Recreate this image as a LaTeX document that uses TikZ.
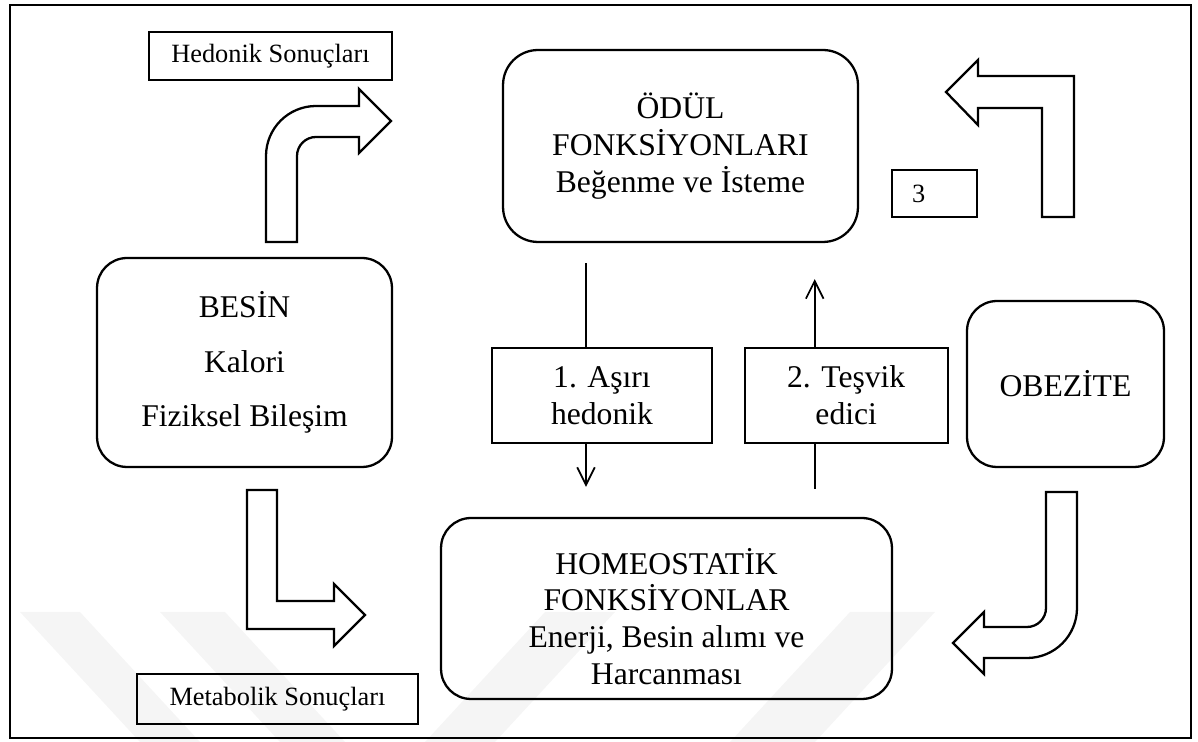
\documentclass[tikz,border=0pt]{standalone}
\usepackage{fontspec}
\setmainfont{Liberation Serif}
\usetikzlibrary{arrows.meta, positioning}
\tikzstyle{rbox} = [rectangle, rounded corners = 0.6cm, draw = black,
  line width = 1.3pt, align = center, font = \fontsize{18}{21}\selectfont]
\tikzstyle{box} = [rectangle, draw = black, line width = 1pt,
  align = center, font = \fontsize{18}{21}\selectfont]
\tikzstyle{lbl} = [rectangle, draw = black, line width = 1pt,
  font = \fontsize{15}{18}\selectfont]
\tikzstyle{bigarrow} = [draw = black, line width = 1.3pt]
\tikzstyle{wm} = [fill = black!4]
\tikzstyle{flow} = [line width = 1pt,
  -{Straight Barb[length = 10pt, width = 10pt, line width = 1pt]}]

\begin{document}
\begin{tikzpicture}[x = 0.02cm, y = -0.02cm]
    \useasboundingbox (0, 0) rectangle (1198, 742);
    \fill [wm] (20, 612) -- (80, 612) -- (200, 742) -- (140, 742) -- cycle;
    \fill [wm] (160, 612) -- (225, 612) -- (345, 742) -- (280, 742) -- cycle;
    \fill [wm] (545, 612) -- (615, 612) -- (495, 742) -- (425, 742) -- cycle;
    \fill [wm] (850, 612) -- (935, 612) -- (815, 742) -- (730, 742) -- cycle;
    \draw [line width = 1.6pt] (10, 5) rectangle (1191, 738);
    \node [rbox, minimum width = 7.1cm, minimum height = 3.84cm,
      rounded corners = 0.7cm] (odul) at (680.5, 146)
      {ÖDÜL\\FONKSİYONLARI\\Beğenme ve İsteme};
    \node [rbox, minimum width = 5.9cm, minimum height = 4.18cm] (besin)
      at (244.5, 362.5) {BESİN\\[10pt]Kalori\\[10pt]Fiziksel Bileşim};
    \node [rbox, minimum width = 3.94cm, minimum height = 3.32cm] (obezite)
      at (1065.5, 384) {OBEZİTE};
    \node [rbox, minimum width = 9.02cm, minimum height = 3.62cm] (homeo)
      at (666.5, 608.5)
      {\rule{0pt}{24pt}HOMEOSTATİK\\FONKSİYONLAR\\Enerji, Besin alımı ve\\Harcanması};
    \node [box, minimum width = 4.4cm, minimum height = 1.9cm] (asiri)
      at (602, 395.5) {1. Aşırı\\hedonik};
    \node [box, minimum width = 4.06cm, minimum height = 1.9cm,
      right = 0.62cm of asiri] (tesvik) {2. Teşvik\\edici};
    \node [lbl, minimum width = 4.86cm, minimum height = 0.96cm] (hedonik)
      at (270.5, 56) {Hedonik Sonuçları};
    \node [lbl, minimum width = 5.62cm, minimum height = 1cm] (metabolik)
      at (277.5, 699) {Metabolik Sonuçları};
    \node [lbl, minimum height = 0.94cm, inner xsep = 0.4cm,
      text width = 0.9cm, align = left] (uc) at (934.5, 193.5) {3};
    \draw [line width = 1pt, shorten <= 0.4cm]
      ([xshift = -0.32cm]asiri.north |- odul.south) --
      ([xshift = -0.32cm]asiri.north);
    \draw [flow, shorten >= 0.6cm] ([xshift = -0.32cm]asiri.south) --
      ([xshift = -0.32cm]asiri.south |- homeo.north);
    \draw [line width = 1pt, shorten <= 0.56cm]
      ([xshift = -0.63cm]tesvik.south |- homeo.north) --
      ([xshift = -0.63cm]tesvik.south);
    \draw [flow, shorten >= 0.72cm] ([xshift = -0.63cm]tesvik.north) --
      ([xshift = -0.63cm]tesvik.north |- odul.south);
    \draw [bigarrow] (266, 242) -- (266, 156)
      arc [start angle = 180, end angle = 270, radius = 50] -- (359, 106)
      -- (359, 89) -- (391, 121) -- (359, 153) -- (359, 137) -- (316, 137)
      arc [start angle = 270, end angle = 180, radius = 19] -- (297, 242)
      -- cycle;
    \draw [bigarrow] (1042, 217) -- (1042, 108) -- (978, 108) -- (978, 125)
      -- (946, 92) -- (978, 60) -- (978, 76) -- (1074, 76) -- (1074, 217)
      -- cycle;
    \draw [bigarrow] (247, 490) -- (247, 629) -- (334, 629) -- (334, 646)
      -- (365, 615) -- (334, 584) -- (334, 601) -- (277, 601) -- (277, 490)
      -- cycle;
    \draw [bigarrow] (1077, 492) -- (1077, 608)
      arc [start angle = 0, end angle = 90, radius = 50] -- (984, 658)
      -- (984, 674) -- (953, 643) -- (984, 612) -- (984, 627) -- (1027, 627)
      arc [start angle = 90, end angle = 0, radius = 19] -- (1046, 492)
      -- cycle;
  \end{tikzpicture}
\end{document}
